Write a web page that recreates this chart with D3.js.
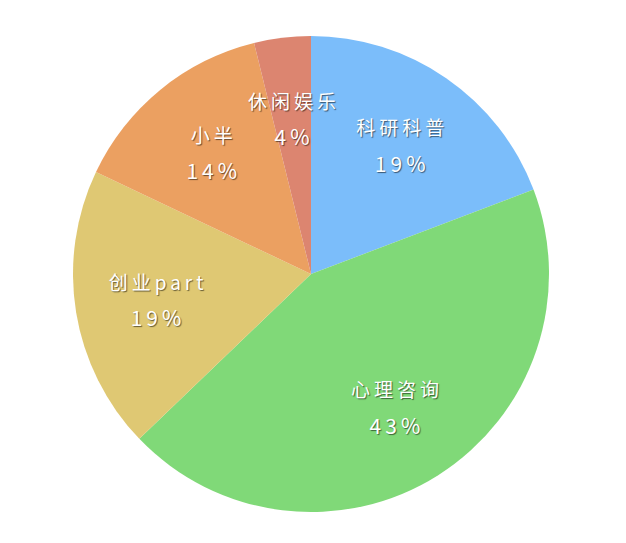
<!DOCTYPE html>
<html>
<head>
<meta charset="utf-8">
<script src="https://cdn.jsdelivr.net/npm/d3@7"></script>
<style>
  body { margin: 0; background: #fff; }
  .slice-label {
    fill: #fff;
    font-family: "Noto Sans CJK SC", "Noto Sans", sans-serif;
    font-size: 19px;
    font-weight: 400;
    letter-spacing: 4px;
    text-shadow: 1px 1px 1px rgba(0, 0, 0, 0.55);
  }
  .slice-pct { font-size: 21px; }
</style>
</head>
<body>
<svg id="chart" width="626" height="543"></svg>
<script>
const categories = ['科研科普', '心理咨询', '创业part', '小半', '休闲娱乐'];
const values = [15, 34, 15, 11, 3];
const percentLabels = ['19%', '43%', '19%', '14%', '4%'];
const colors = ['#7bbdfa', '#80d978', '#dfc873', '#eba061', '#dc8570'];

const dim = { cx: 311, cy: 274, r: 238, labelR: 157 };

const svg = d3.select('#chart');
const g = svg.append('g').attr('transform', `translate(${dim.cx}, ${dim.cy})`);

const pie = d3.pie().sort(null).value((d) => d.value);
const arcs = pie(categories.map((name, i) => ({ name, value: values[i], pct: percentLabels[i], color: colors[i] })));

const arc = d3.arc().innerRadius(0).outerRadius(dim.r);
const labelArc = d3.arc().innerRadius(dim.labelR).outerRadius(dim.labelR);

g.selectAll('path')
  .data(arcs)
  .enter()
  .append('path')
  .attr('d', arc)
  .style('fill', (d) => d.data.color);

const labels = g.selectAll('g.label')
  .data(arcs)
  .enter()
  .append('g')
  .attr('class', 'label')
  .attr('transform', (d) => `translate(${labelArc.centroid(d)})`);

labels.append('text')
  .attr('class', 'slice-label')
  .attr('text-anchor', 'middle')
  .attr('dx', 2)
  .attr('y', -18)
  .attr('dominant-baseline', 'central')
  .text((d) => d.data.name);

labels.append('text')
  .attr('class', 'slice-label slice-pct')
  .attr('text-anchor', 'middle')
  .attr('dx', 2)
  .attr('y', 18)
  .attr('dominant-baseline', 'central')
  .text((d) => d.data.pct);
</script>
</body>
</html>
